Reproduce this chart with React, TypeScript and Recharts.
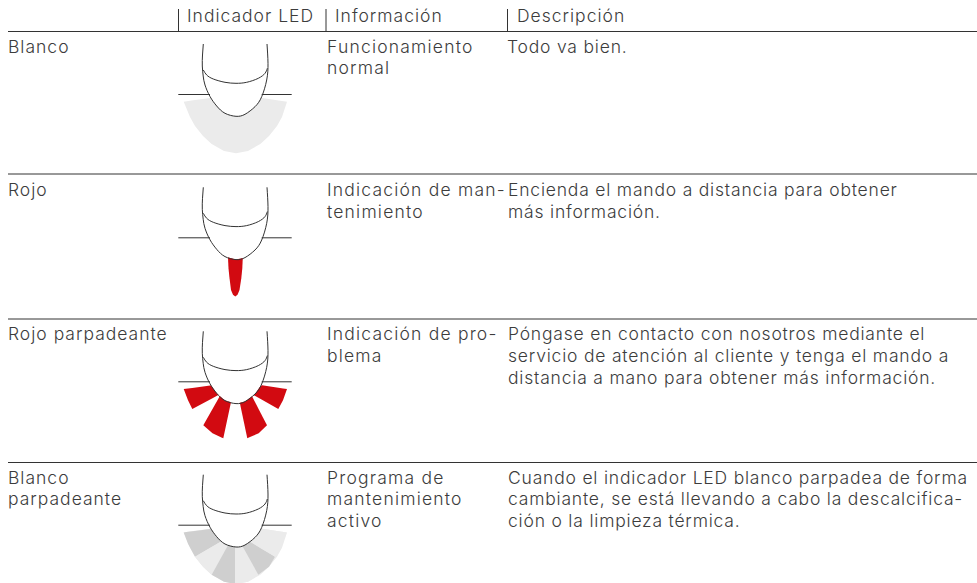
import React from "react";
import { ComposedChart, XAxis, YAxis, Line, Area, Scatter } from "recharts";

type P = [number, number];

const W = 977;
const H = 583;
const INK = "#333333";
const TEXT = "#3c3c3c";
const RED = "#d20a11";
const LIGHT = "#ebebeb";
const DARK = "#cfcfcf";

// Table rules
const rowRules = [31.5, 174, 319, 462.5];
const headTicks = [178.5, 326, 507.5];
const rowOffsets = [0, 143.3, 287.3, 430.7];

// Table text
const headers = [
  { x: 187, y: 22, text: "Indicador LED" },
  { x: 335, y: 22, text: "Información" },
  { x: 517, y: 22, text: "Descripción" },
];
const stateCol = [
  { x: 8, y: 53, text: "Blanco" },
  { x: 8, y: 196, text: "Rojo" },
  { x: 8, y: 340, text: "Rojo parpadeante" },
  { x: 8, y: 484, text: "Blanco" },
  { x: 8, y: 505, text: "parpadeante" },
];
const infoCol = [
  { x: 327, y: 53, text: "Funcionamiento" },
  { x: 327, y: 74, text: "normal" },
  { x: 327, y: 196, text: "Indicación de man-" },
  { x: 327, y: 218, text: "tenimiento" },
  { x: 327, y: 340, text: "Indicación de pro-" },
  { x: 327, y: 362, text: "blema" },
  { x: 327, y: 484, text: "Programa de" },
  { x: 327, y: 505, text: "mantenimiento" },
  { x: 327, y: 527, text: "activo" },
];
const descCol = [
  { x: 507, y: 53, text: "Todo va bien." },
  { x: 508, y: 196, text: "Encienda el mando a distancia para obtener" },
  { x: 508, y: 218, text: "más información." },
  { x: 508, y: 340, text: "Póngase en contacto con nosotros mediante el" },
  { x: 508, y: 362, text: "servicio de atención al cliente y tenga el mando a" },
  { x: 508, y: 384, text: "distancia a mano para obtener más información." },
  { x: 508, y: 484, text: "Cuando el indicador LED blanco parpadea de forma" },
  { x: 508, y: 505, text: "cambiante, se está llevando a cabo la descalcifica-" },
  { x: 508, y: 527, text: "ción o la limpieza térmica." },
];

// LED outline, row-relative
const ledBody: P[] = [
  [203.3, 44], [202.5, 55], [202.3, 66], [203.2, 76], [205, 85], [210, 96.5], [216.7, 106],
  [225, 113.3], [236, 116.3], [245, 114.3], [255, 106.7], [261.7, 96.7], [266.7, 80],
  [268, 63.3], [267, 44],
];
const ledArc: P[] = [
  [203.3, 70], [206.7, 75], [213.3, 79], [225, 82.3], [236, 83.3], [246.7, 82.3], [258.3, 78.3],
  [265, 73.3], [267.3, 68.3],
];
const sillLeft: P[] = [[178.3, 94.5], [210, 94.5]];
const sillRight: P[] = [[261.7, 94.5], [291.7, 94.5]];
const ledMask: P[] = [
  [202.5, 90], [205, 85], [210, 96.5], [216.7, 106], [225, 113.3], [236, 116.3], [245, 114.3],
  [255, 106.7], [261.7, 96.7], [266.7, 82], [268, 90],
];

// Fans, row-relative polygons
const glowWhole: P[] = [
  [183.7, 101.7], [190, 117], [195, 126], [203, 136], [211.7, 144], [224, 151], [236, 153.3],
  [248, 151], [260.3, 144], [269, 136], [277, 126], [282, 117], [287, 101.7], [262, 98], [236, 97], [210, 98],
];
const redDrop: P[] = [
  [227.3, 95], [227.8, 110], [228.5, 125], [229.5, 135], [231, 146.7], [233, 151.5], [235.3, 153.3],
  [237.5, 151.5], [239.5, 146.7], [241.3, 135], [242.3, 125], [243, 110], [243.3, 95],
];
const redFan: P[][] = [
  [[183.7, 101.7], [188, 113], [192.3, 121.7], [222, 105.7], [212, 98]],
  [[203.3, 138], [212.5, 146], [223.3, 151], [233.1, 105], [222, 105]],
  [[247.3, 151], [258.7, 146], [267, 138], [250, 105], [237.6, 105]],
  [[278.3, 121.7], [283, 113], [287, 101.7], [262, 98], [250, 105.7]],
];
const greyFan: P[][] = [
  [[183.7, 101.7], [188, 113], [195, 126], [236, 102], [212, 98]],
  [[195, 126], [203, 136], [211.7, 144], [236, 102]],
  [[211.7, 144], [224, 151], [235, 153.3], [235, 102]],
  [[235, 153.3], [248, 151], [258.3, 144], [235, 102]],
  [[258.3, 144], [269, 136], [275, 126], [235, 102]],
  [[275, 126], [282, 113], [286.7, 101.7], [262, 98], [235, 102]],
];

// Turn a convex outline into x / [low, high] rows for a range Area.
function band(poly: P[], dy: number) {
  const xs = Array.from(new Set(poly.map((p) => p[0]))).sort((a, b) => a - b);
  return xs.map((x) => {
    const ys: number[] = [];
    poly.forEach((a, i) => {
      const b = poly[(i + 1) % poly.length];
      const lo = Math.min(a[0], b[0]);
      const hi = Math.max(a[0], b[0]);
      if (x < lo || x > hi) return;
      if (a[0] === b[0]) ys.push(a[1], b[1]);
      else ys.push(a[1] + ((x - a[0]) / (b[0] - a[0])) * (b[1] - a[1]));
    });
    return { x, band: [Math.min(...ys) + dy, Math.max(...ys) + dy] };
  });
}
const pts = (l: P[], dy = 0) => l.map(([x, y]) => ({ x, y: y + dy }));

const textMark = (spacing: number) => (props: any) => (
  <text
    x={props.cx}
    y={props.cy}
    fontFamily="Inter, 'Liberation Sans', sans-serif"
    fontWeight={300}
    fontSize={17.5}
    letterSpacing={spacing}
    fill={TEXT}
  >
    {props.payload.text}
  </text>
);

const fills: { poly: P[]; fill: string; row: number }[] = [
  { poly: glowWhole, fill: LIGHT, row: 0 },
  { poly: redDrop, fill: RED, row: 1 },
  ...redFan.map((poly) => ({ poly, fill: RED, row: 2 })),
  { poly: glowWhole, fill: LIGHT, row: 3 },
  ...greyFan.map((poly, i) => ({ poly, fill: i % 2 === 0 ? DARK : LIGHT, row: 3 })),
];

const columns = [
  { data: headers, spacing: 1.0 },
  { data: stateCol, spacing: 1.0 },
  { data: infoCol, spacing: 1.2 },
  { data: descCol, spacing: 0.8 },
];

export default function App() {
  let k = 0;
  return (
    <div style={{ position: "absolute", left: 0, top: 0, background: "#fff" }}>
      <ComposedChart width={W} height={H} margin={{ top: 0, right: 0, bottom: 0, left: 0 }}>
        <XAxis dataKey="x" type="number" domain={[0, W]} allowDataOverflow hide />
        <YAxis dataKey="y" type="number" domain={[0, H]} allowDataOverflow reversed hide />

        {fills.map((f) => (
          <Area
            key={`f${k++}`}
            data={band(f.poly, rowOffsets[f.row])}
            dataKey="band"
            type="linear"
            fill={f.fill}
            fillOpacity={1}
            stroke="none"
            dot={false}
            activeDot={false}
            isAnimationActive={false}
          />
        ))}
        {rowOffsets.map((dy) => (
          <Area
            key={`m${k++}`}
            data={band(ledMask, dy)}
            dataKey="band"
            type="linear"
            fill="#ffffff"
            fillOpacity={1}
            stroke="none"
            dot={false}
            activeDot={false}
            isAnimationActive={false}
          />
        ))}

        {rowRules.map((y) => (
          <Line key={`r${k++}`} data={pts([[8, y], [W, y]])} dataKey="y" type="linear" stroke={INK} strokeWidth={1} dot={false} activeDot={false} isAnimationActive={false} />
        ))}
        {headTicks.map((x) => (
          <Line key={`t${k++}`} data={pts([[x, 9], [x, 31]])} dataKey="y" type="linear" stroke={INK} strokeWidth={1} dot={false} activeDot={false} isAnimationActive={false} />
        ))}
        {rowOffsets.flatMap((dy) =>
          [sillLeft, sillRight].map((s) => (
            <Line key={`s${k++}`} data={pts(s, dy)} dataKey="y" type="linear" stroke={INK} strokeWidth={1} dot={false} activeDot={false} isAnimationActive={false} />
          ))
        )}
        {rowOffsets.flatMap((dy) =>
          [ledBody, ledArc].map((s) => (
            <Line key={`l${k++}`} data={pts(s, dy)} dataKey="y" type="natural" stroke={INK} strokeWidth={1} dot={false} activeDot={false} isAnimationActive={false} />
          ))
        )}

        {columns.map((c, i) => (
          <Scatter key={`c${i}`} data={c.data} shape={textMark(c.spacing)} isAnimationActive={false} />
        ))}
      </ComposedChart>
    </div>
  );
}
